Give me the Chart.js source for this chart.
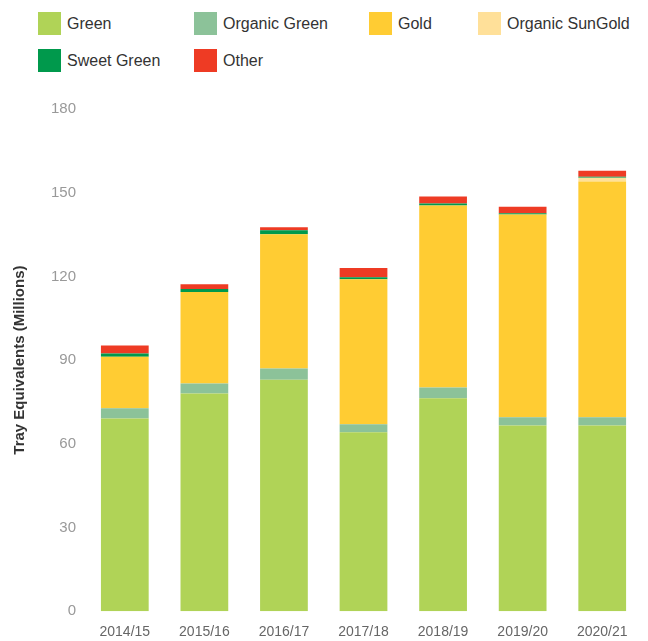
<!DOCTYPE html>
<html>
<head>
<meta charset="utf-8">
<script src="https://cdn.jsdelivr.net/npm/chart.js@4"></script>
<style>
  html, body { margin: 0; padding: 0; background: #fff; }
  body { width: 648px; height: 641px; position: relative; overflow: hidden; font-family: "Liberation Sans", Arial, sans-serif; }
  #legend { position: absolute; left: 38px; top: 12px; display: grid; grid-template-columns: 156px 175px 109px auto; row-gap: 14px; }
  .item { display: flex; align-items: center; font-size: 16px; color: #333; height: 23px; white-space: nowrap; }
  .swatch { width: 23px; height: 23px; margin-right: 6px; flex: none; }
  .chartBox { position: absolute; left: 0; top: 91px; width: 648px; height: 563px; }
</style>
</head>
<body>
<div id="legend"></div>
<div class="chartBox"><canvas id="myChart"></canvas></div>
<script>
// seasons and tray volumes (millions)
const seasons = ["2014/15", "2015/16", "2016/17", "2017/18", "2018/19", "2019/20", "2020/21"];
const green = [69.1, 78.0, 83.0, 64.1, 76.3, 66.6, 66.6];
const organicGreen = [3.6, 3.6, 4.0, 2.9, 3.9, 2.9, 2.9];
const gold = [18.5, 32.8, 48.1, 52.0, 65.2, 72.7, 84.5];
const organicSunGold = [0, 0, 0, 0, 0, 0, 1.4];
const sweetGreen = [1.2, 1.1, 1.4, 0.7, 0.7, 0.4, 0.3];
const other = [2.8, 1.7, 1.1, 3.3, 2.5, 2.4, 2.2];
const yTicks = [0, 30, 60, 90, 120, 150, 180];

const series = [
    { label: "Green", data: green, color: "#b0d357" },
    { label: "Organic Green", data: organicGreen, color: "#8cc299" },
    { label: "Gold", data: gold, color: "#ffcc33" },
    { label: "Organic SunGold", data: organicSunGold, color: "#ffe099" },
    { label: "Sweet Green", data: sweetGreen, color: "#00994c" },
    { label: "Other", data: other, color: "#ee3b24" }
];

// html legend
const legend = document.getElementById("legend");
series.forEach(s => {
    const el = document.createElement("div");
    el.className = "item";
    el.innerHTML = '<span class="swatch" style="background:' + s.color + '"></span>' + s.label;
    legend.appendChild(el);
});

const ctx = document.getElementById("myChart").getContext("2d");
new Chart(ctx, {
    type: "bar",
    data: {
        labels: seasons,
        datasets: series.map(s => ({
            label: s.label,
            data: s.data,
            backgroundColor: s.color,
            borderWidth: 0,
            categoryPercentage: 0.6,
            barPercentage: 1
        }))
    },
    options: {
        responsive: true,
        maintainAspectRatio: false,
        animation: false,
        layout: { padding: { left: 11, right: 6, top: 14, bottom: 0 } },
        plugins: {
            legend: { display: false },
            tooltip: { enabled: false }
        },
        scales: {
            x: {
                stacked: true,
                grid: { display: false, drawTicks: false },
                border: { display: false },
                ticks: { color: "#666", font: { family: "Liberation Sans", size: 14 }, padding: 13, maxRotation: 0 }
            },
            y: {
                stacked: true,
                min: 0,
                max: 180,
                afterBuildTicks: axis => { axis.ticks = yTicks.map(v => ({ value: v })); },
                grid: { display: false, drawTicks: false },
                border: { display: false },
                ticks: { color: "#999", font: { family: "Liberation Sans", size: 15 }, padding: 9 },
                title: {
                    display: true,
                    text: "Tray Equivalents (Millions)",
                    color: "#333",
                    font: { family: "Liberation Sans", size: 15, weight: "bold" },
                    padding: { top: 0, bottom: 13 }
                }
            }
        }
    }
});
</script>
</body>
</html>
